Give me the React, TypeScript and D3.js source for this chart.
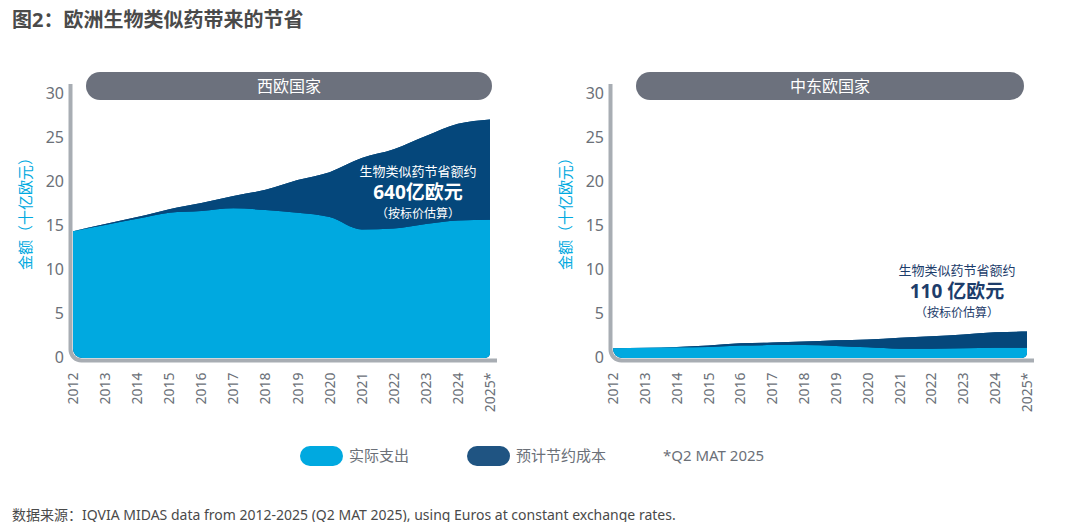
import React, { useRef, useEffect } from 'react';
import * as D3 from 'd3';

const years = ['2012', '2013', '2014', '2015', '2016', '2017', '2018', '2019', '2020', '2021', '2022', '2023', '2024', '2025*'];
const yTicks = [0, 5, 10, 15, 20, 25, 30];

// 西欧国家 (十亿欧元)
const westActual = [14.3, 15.0, 15.7, 16.4, 16.6, 16.9, 16.7, 16.4, 15.9, 14.5, 14.6, 15.1, 15.5, 15.6];
const westTotal = [14.3, 15.1, 15.9, 16.8, 17.5, 18.3, 19.0, 20.1, 21.0, 22.6, 23.6, 25.1, 26.5, 27.0];

// 中东欧国家
const ceeActual = [1.0, 1.05, 1.1, 1.15, 1.3, 1.35, 1.35, 1.25, 1.1, 0.95, 0.95, 1.0, 1.05, 1.05];
const ceeTotal = [1.0, 1.05, 1.15, 1.3, 1.55, 1.65, 1.75, 1.9, 2.0, 2.2, 2.35, 2.55, 2.8, 2.9];

const LIGHT = '#00a9e0';
const DARK = '#05477b';
const AXIS = '#a8adb3';
const GREY_TEXT = '#6b7078';
const PILL = '#6c717d';
const FONT = '"Noto Sans", "Noto Sans CJK SC", sans-serif';

type Panel = {
    id: string;
    title: string;
    actual: number[];
    total: number[];
    x0: number;
    x1: number;
    pill: [number, number];
    note: { x: number; y: number; color: string; amount: string };
};

const panels: Panel[] = [
    { id: 'west', title: '西欧国家', actual: westActual, total: westTotal, x0: 73, x1: 490, pill: [86, 492], note: { x: 418, y: 171, color: '#ffffff', amount: '640亿欧元' } },
    { id: 'cee', title: '中东欧国家', actual: ceeActual, total: ceeTotal, x0: 613, x1: 1027, pill: [636, 1024], note: { x: 957, y: 270, color: '#1d3d6b', amount: '110 亿欧元' } },
];

export default function App() {
    const svgRef = useRef<SVGSVGElement>(null);

    useEffect(() => {
        if (!svgRef.current) return;
        const width = 1080;
        const height = 530;
        const svg = D3.select(svgRef.current)
            .attr('width', width)
            .attr('height', height)
            .attr('viewBox', `0 0 ${width} ${height}`)
            .style('font-family', FONT);
        svg.selectAll('*').remove();

        svg.append('rect').attr('width', width).attr('height', height).attr('fill', '#ffffff');

        // Title
        svg.append('text')
            .attr('x', 12).attr('y', 27)
            .attr('fill', '#4a4a4a')
            .attr('font-size', '20px')
            .attr('font-weight', 'bold')
            .text('图2：欧洲生物类似药带来的节省');

        const defs = svg.append('defs');
        const y = D3.scaleLinear().domain([0, 30]).range([357, 93]);

        panels.forEach(p => {
            const x = D3.scalePoint<string>().domain(years).range([p.x0, p.x1]);
            const g = svg.append('g');
            const xs = (i: number) => x(years[i]) as number;

            // rounded clip for bottom corners
            const r = 9;
            const left = xs(0), right = xs(years.length - 1), base = y(0) + 1, top = y(30);
            const cp = D3.path();
            cp.moveTo(left, top);
            cp.lineTo(right, top);
            cp.lineTo(right, base - 5);
            cp.arcTo(right, base, right - 5, base, 5);
            cp.lineTo(left + r, base);
            cp.arcTo(left, base, left, base - r, r);
            cp.closePath();
            defs.append('clipPath').attr('id', `clip-${p.id}`).append('path').attr('d', cp.toString());

            const area = D3.area<number>()
                .x((_, i) => xs(i))
                .y0(y(0) + 2)
                .y1(d => y(d))
                .curve(D3.curveMonotoneX);
            const area2 = D3.area<number>()
                .x((_, i) => xs(i))
                .y0((_, i) => y(p.actual[i]))
                .y1(d => y(d))
                .curve(D3.curveMonotoneX);

            const ga = g.append('g').attr('clip-path', `url(#clip-${p.id})`);
            ga.append('path').datum(p.total).attr('fill', DARK).attr('d', area);
            ga.append('path').datum(p.actual).attr('fill', LIGHT).attr('d', area);
            ga.append('path').datum(p.total).attr('fill', DARK).attr('d', area2);

            // axis line with rounded corner
            const ax = left - 2.5, ay = y(0) + 3.5, ar = 11;
            const ap = D3.path();
            ap.moveTo(ax, 84);
            ap.lineTo(ax, ay - ar);
            ap.arcTo(ax, ay, ax + ar, ay, ar);
            ap.lineTo(right + 7, ay);
            g.append('path').attr('d', ap.toString()).attr('fill', 'none').attr('stroke', AXIS).attr('stroke-width', 4);

            // y ticks
            g.selectAll('text.yt').data(yTicks).enter().append('text')
                .attr('x', left - 9)
                .attr('y', d => y(d))
                .attr('dy', '0.35em')
                .attr('text-anchor', 'end')
                .attr('fill', GREY_TEXT)
                .attr('font-size', '16px')
                .text(d => d);

            // x ticks
            g.selectAll('text.xt').data(years).enter().append('text')
                .attr('transform', d => `translate(${(x(d) as number) + 5},${ay + 12}) rotate(-90)`)
                .attr('text-anchor', 'end')
                .attr('fill', GREY_TEXT)
                .attr('font-size', '14px')
                .text(d => d);

            // y label
            g.append('text')
                .attr('transform', `translate(${left - 42},${y(15) - 15}) rotate(-90)`)
                .attr('text-anchor', 'middle')
                .attr('fill', LIGHT)
                .attr('font-size', '15px')
                .text('金额（十亿欧元）');

            // header pill
            g.append('rect')
                .attr('x', p.pill[0]).attr('y', 72)
                .attr('width', p.pill[1] - p.pill[0]).attr('height', 28)
                .attr('rx', 14)
                .attr('fill', PILL);
            g.append('text')
                .attr('x', (p.pill[0] + p.pill[1]) / 2).attr('y', 86)
                .attr('dy', '0.35em')
                .attr('text-anchor', 'middle')
                .attr('fill', '#ffffff')
                .attr('font-size', '16px')
                .text(p.title);

            // note
            const n = p.note;
            g.append('text').attr('x', n.x).attr('y', n.y).attr('dy', '0.35em')
                .attr('text-anchor', 'middle').attr('fill', n.color).attr('font-size', '13px')
                .text('生物类似药节省额约');
            g.append('text').attr('x', n.x).attr('y', n.y + 21).attr('dy', '0.35em')
                .attr('text-anchor', 'middle').attr('fill', n.color).attr('font-size', '19px').attr('font-weight', 'bold')
                .text(n.amount);
            g.append('text').attr('x', n.x).attr('y', n.y + 43).attr('dy', '0.35em')
                .attr('text-anchor', 'middle').attr('fill', n.color).attr('font-size', '12px')
                .text('（按标价估算）');
        });

        // legend
        const legend = [
            { label: '实际支出', color: LIGHT, x: 300 },
            { label: '预计节约成本', color: '#1f5482', x: 467 },
        ];
        legend.forEach(l => {
            svg.append('rect').attr('x', l.x).attr('y', 446).attr('width', 43).attr('height', 20).attr('rx', 10).attr('fill', l.color);
            svg.append('text').attr('x', l.x + 49).attr('y', 456).attr('dy', '0.35em')
                .attr('fill', GREY_TEXT).attr('font-size', '15px').text(l.label);
        });
        svg.append('text').attr('x', 663).attr('y', 456).attr('dy', '0.35em')
            .attr('fill', GREY_TEXT).attr('font-size', '15px').text('*Q2 MAT 2025');

        // source
        svg.append('text').attr('x', 12).attr('y', 515).attr('dy', '0.35em')
            .attr('fill', '#4a4a4a').attr('font-size', '14px')
            .text('数据来源：IQVIA MIDAS data from 2012-2025 (Q2 MAT 2025), using Euros at constant exchange rates.');
    }, []);

    return <svg ref={svgRef} style={{ display: 'block', margin: -8 }} />;
}
